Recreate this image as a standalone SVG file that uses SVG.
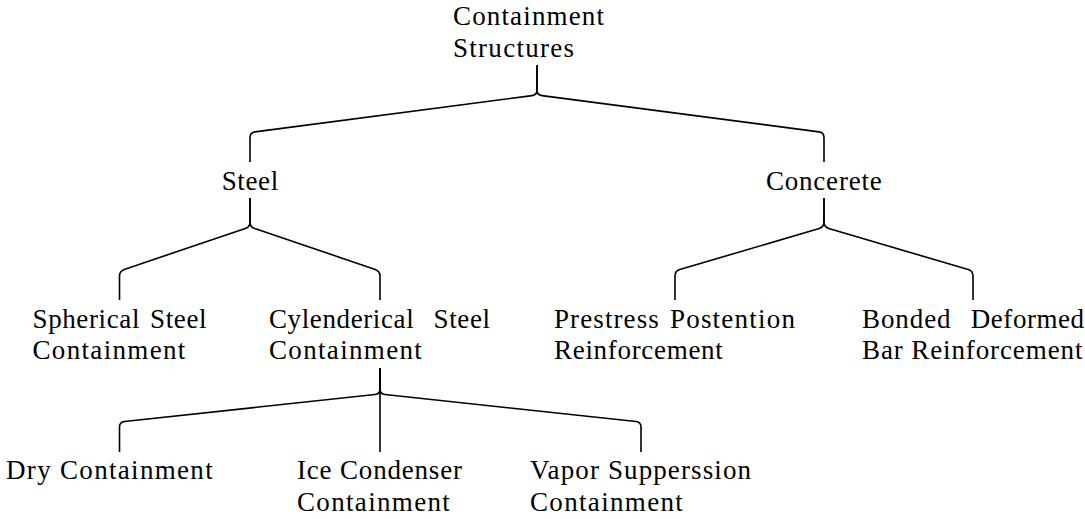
<svg xmlns="http://www.w3.org/2000/svg" width="1085" height="519" viewBox="0 0 1085 519">
<style>
.t{font-family:"Liberation Serif","Times New Roman","DejaVu Serif",serif;font-size:27px;fill:#000}
.e{fill:none;stroke:#000;stroke-width:1.6;stroke-linejoin:round}
</style>
<rect width="1085" height="519" fill="#fff"/>
<g id="connectors">
<path class="e" d="M537,65 V90 Q537,95 532.04,95.65 L254.96,131.85 Q250,132.5 250,137.5 V162"/>
<path class="e" d="M537,65 V90 Q537,95 541.96,95.65 L819.04,131.85 Q824,132.5 824,137.5 V162"/>
<path class="e" d="M250,198 V222 Q250,227 245.26,228.6 L124.24,269.4 Q119.5,271 119.5,276 V300"/>
<path class="e" d="M250,198 V222 Q250,227 254.74,228.6 L375.26,269.4 Q380,271 380,276 V300"/>
<path class="e" d="M824,198 V222 Q824,227 819.2,228.42 L679.8,269.58 Q675,271 675,276 V300"/>
<path class="e" d="M824,198 V222 Q824,227 828.8,228.42 L968.2,269.58 Q973,271 973,276 V300"/>
<path class="e" d="M380,368 V389 Q380,394 375.03,394.53 L124.47,421.47 Q119.5,422 119.5,427 V452"/>
<path class="e" d="M380,368 V452"/>
<path class="e" d="M380,368 V389 Q380,394 384.97,394.53 L636.03,421.47 Q641,422 641,427 V452"/>
</g>
<g id="root">
<text class="t" x="453" y="25" textLength="151" lengthAdjust="spacing">Containment</text>
<text class="t" x="453" y="56.5" textLength="121" lengthAdjust="spacing">Structures</text>
</g>
<g id="steel">
<text class="t" x="221.7" y="190" textLength="56.5" lengthAdjust="spacing">Steel</text>
</g>
<g id="concerete">
<text class="t" x="766" y="190" textLength="115.7" lengthAdjust="spacing">Concerete</text>
</g>
<g id="spherical">
<text class="t" y="327.5"><tspan x="32.5" textLength="106.9" lengthAdjust="spacing">Spherical</tspan> <tspan x="150.1" textLength="56.4" lengthAdjust="spacing">Steel</tspan></text>
<text class="t" x="32.5" y="358.5" textLength="152.8" lengthAdjust="spacing">Containment</text>
</g>
<g id="cylenderical">
<text class="t" y="327.5"><tspan x="269" textLength="144.7" lengthAdjust="spacing">Cylenderical</tspan> <tspan x="433.6" textLength="56.4" lengthAdjust="spacing">Steel</tspan></text>
<text class="t" x="269" y="358.5" textLength="152.8" lengthAdjust="spacing">Containment</text>
</g>
<g id="prestress">
<text class="t" y="327.5"><tspan x="554" textLength="104.8" lengthAdjust="spacing">Prestress</tspan> <tspan x="669.9" textLength="125.1" lengthAdjust="spacing">Postention</tspan></text>
<text class="t" x="554" y="358.5" textLength="168.8" lengthAdjust="spacing">Reinforcement</text>
</g>
<g id="bonded">
<text class="t" y="327.5"><tspan x="862" textLength="88.6" lengthAdjust="spacing">Bonded</tspan> <tspan x="970.8" textLength="113.2" lengthAdjust="spacing">Deformed</tspan></text>
<text class="t" x="862" y="358.5" textLength="220.4" lengthAdjust="spacing">Bar Reinforcement</text>
</g>
<g id="dry">
<text class="t" x="6" y="479" textLength="206.7" lengthAdjust="spacing">Dry Containment</text>
</g>
<g id="ice">
<text class="t" x="297" y="479" textLength="165" lengthAdjust="spacing">Ice Condenser</text>
<text class="t" x="297" y="510.5" textLength="152.8" lengthAdjust="spacing">Containment</text>
</g>
<g id="vapor">
<text class="t" x="530" y="479" textLength="221" lengthAdjust="spacing">Vapor Supperssion</text>
<text class="t" x="530" y="510.5" textLength="152.8" lengthAdjust="spacing">Containment</text>
</g>
</svg>
